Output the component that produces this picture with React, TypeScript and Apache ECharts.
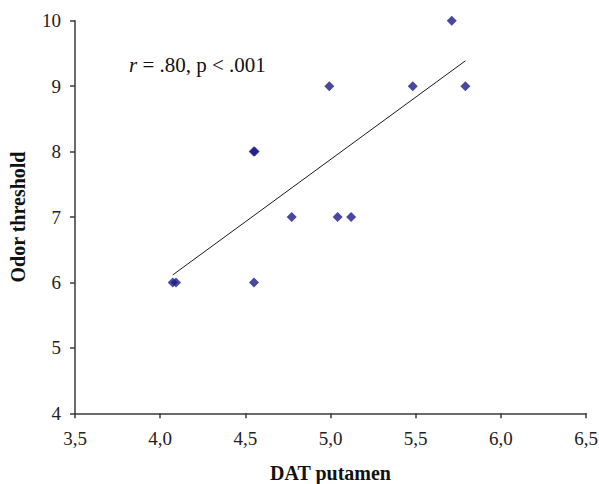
import React, { useEffect, useRef } from "react";
import * as echarts from "echarts";

const datPutamen = [4.074, 4.093, 4.551, 4.549, 4.555, 4.772, 4.993, 5.042, 5.121, 5.483, 5.712, 5.792];
const odorThreshold = [6, 6, 6, 8, 8, 7, 9, 7, 7, 9, 10, 9];
const trendX = [4.074, 5.792];
const trendY = [6.115, 9.387];
const annotation = "r = .80, p < .001";

export default function App() {
  const ref = useRef<HTMLDivElement>(null);
  useEffect(() => {
    if (!ref.current) return;
    const chart = echarts.init(ref.current, null, { renderer: "svg" });
    const font = "'Liberation Serif', 'Times New Roman', serif";
    const axisColor = "#3a3a3a";
    chart.setOption({
      animation: false,
      backgroundColor: "#ffffff",
      grid: {
        left: 75, top: 20.7, width: 511, height: 392.6,
        containLabel: false, outerBoundsMode: "none",
      },
      xAxis: {
        type: "value",
        min: 3.5,
        max: 6.5,
        interval: 0.5,
        name: "DAT putamen",
        nameLocation: "middle",
        nameGap: 50,
        nameTextStyle: { fontFamily: font, fontSize: 20, fontWeight: "bold", color: "#111" },
        axisLine: { lineStyle: { color: axisColor, width: 1.5 } },
        axisTick: { show: true, length: 5, lineStyle: { color: axisColor, width: 1.5 } },
        axisLabel: {
          fontFamily: font, fontSize: 19, color: "#222", margin: 16,
          formatter: (v: number) => v.toFixed(1).replace(".", ","),
        },
        splitLine: { show: false },
      },
      yAxis: {
        type: "value",
        min: 4,
        max: 10,
        interval: 1,
        name: "Odor threshold",
        nameLocation: "middle",
        nameGap: 47,
        nameTextStyle: { fontFamily: font, fontSize: 20, fontWeight: "bold", color: "#111" },
        axisLine: { show: true, lineStyle: { color: axisColor, width: 1.5 } },
        axisTick: { show: true, length: 5, lineStyle: { color: axisColor, width: 1.5 } },
        axisLabel: { fontFamily: font, fontSize: 19, color: "#222", margin: 14 },
        splitLine: { show: false },
      },
      series: [
        {
          type: "line",
          data: trendX.map((x, i) => [x, trendY[i]]),
          showSymbol: false,
          symbol: "none",
          lineStyle: { color: "#1a1a1a", width: 1 },
          z: 1,
        },
        {
          type: "scatter",
          data: datPutamen.map((x, i) => [x, odorThreshold[i]]),
          symbol: "diamond",
          symbolSize: 10,
          itemStyle: { color: "#1a1a8a" },
          z: 2,
        },
      ],
      graphic: [
        {
          type: "text",
          left: 129,
          top: 54,
          style: {
            text: "{i|r}" + annotation.slice(1),
            font: `21px ${font}`,
            fill: "#111",
            rich: { i: { fontStyle: "italic", fontFamily: font, fontSize: 21, fill: "#111" } },
          },
        },
      ],
    });
    return () => chart.dispose();
  }, []);
  return <div ref={ref} style={{ position: "fixed", left: 0, top: 0, width: 599, height: 484 }} />;
}
